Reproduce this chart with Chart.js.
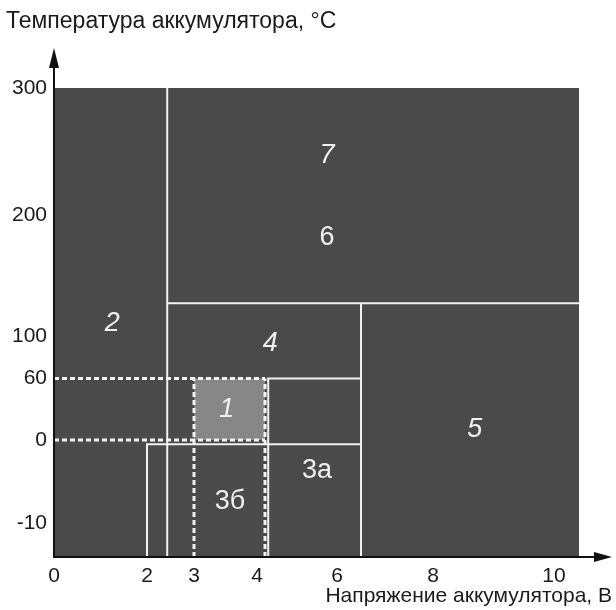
<!DOCTYPE html>
<html><head><meta charset="utf-8">
<script src="https://cdn.jsdelivr.net/npm/chart.js@4.4.1/dist/chart.umd.min.js"></script>
<style>html,body{margin:0;padding:0;background:#fff}#wrap{width:616px;height:610px}</style>
</head><body><div id="wrap"><canvas id="c" width="616" height="610"></canvas></div>
<script>
// ---- data (values in V and °C) ----
const X_TICKS = [0, 2, 3, 4, 6, 8, 10];
const Y_TICKS = [-10, 0, 60, 100, 200, 300];
const REGION_V = [0, 10.4];
const REGION_T = [300, 300];
const REGION_T_MIN = -14;
const ZONE1_V = [3, 4.2];
const ZONE1_T = [60, 60];
const ZONE1_T_MIN = 0;
// solid boundaries (polylines)
const SOLID_V = [[2.43, 2.43], [2.43, 10.4], [6.5, 6.5], [2, 2, 6.5], [4.28, 4.28, 6.5]];
const SOLID_T = [[-14, 300], [127, 127], [-14, 127], [-14, -0.5, -0.5], [-14, 60, 60]];
// dotted boundaries of zone 1
const DOTTED_V = [[0, 4.2], [0, 4.2], [3, 3], [4.2, 4.2]];
const DOTTED_T = [[60, 60], [0, 0], [-14, 60], [-14, 60]];
// zone labels
const ZONE_NAMES = ['1', '2', '3а', '3б', '4', '5', '6', '7'];
const ZONE_V = [3.52, 1.25, 5.5, 3.57, 4.33, 8.69, 5.75, 5.75];
const ZONE_T = [30, 110, -3.7, -7.4, 93, 10, 181, 247];
const ZONE_ITALIC = [true, true, false, false, true, true, false, true];

// ---- piecewise (schematic) scale ----
class PiecewiseScale extends Chart.LinearScale {
  _frac(v) {
    const bv = this.options.breakValues, bf = this.options.breakFracs;
    if (v <= bv[0]) return bf[0];
    for (let i = 1; i < bv.length; i++) {
      if (v <= bv[i]) return bf[i - 1] + (v - bv[i - 1]) / (bv[i] - bv[i - 1]) * (bf[i] - bf[i - 1]);
    }
    return bf[bf.length - 1];
  }
  getPixelForValue(value) {
    if (value === null || value === undefined || isNaN(value)) return NaN;
    return this.getPixelForDecimal(this._frac(+value));
  }
  getValueForPixel(pixel) {
    const d = this.getDecimalForPixel(pixel);
    const bv = this.options.breakValues, bf = this.options.breakFracs;
    for (let i = 1; i < bv.length; i++) {
      if (d <= bf[i]) return bv[i - 1] + (d - bf[i - 1]) / (bf[i] - bf[i - 1]) * (bv[i] - bv[i - 1]);
    }
    return bv[bv.length - 1];
  }
}
PiecewiseScale.id = 'piecewise';
PiecewiseScale.defaults = Chart.LinearScale.defaults;
Chart.register(PiecewiseScale);

const FONT = '"Liberation Sans", Arial, sans-serif';
const LINE_COLOR = '#f2f2f2';

function poly(vs, ts) { return vs.map((v, i) => ({x: v, y: ts[i]})); }

const datasets = [];
SOLID_V.forEach((vs, i) => datasets.push({
  data: poly(vs, SOLID_T[i]), borderColor: LINE_COLOR, borderWidth: 2, pointRadius: 0, fill: false, tension: 0
}));
DOTTED_V.forEach((vs, i) => datasets.push({
  data: poly(vs, DOTTED_T[i]), borderColor: LINE_COLOR, borderWidth: 3, borderDash: [5, 3], pointRadius: 0, fill: false, tension: 0
}));
datasets.push({
  data: poly(ZONE1_V, ZONE1_T), borderWidth: 0, borderColor: 'rgba(0,0,0,0)', backgroundColor: '#878787',
  pointRadius: 0, fill: {value: ZONE1_T_MIN}, tension: 0
});
datasets.push({
  data: poly(REGION_V, REGION_T), borderWidth: 0, borderColor: 'rgba(0,0,0,0)', backgroundColor: '#4a4a4a',
  pointRadius: 0, fill: {value: REGION_T_MIN}, tension: 0
});

const zoneLabels = {
  id: 'zoneLabels',
  afterDatasetsDraw(chart) {
    const {ctx, scales: {x, y}} = chart;
    ctx.save();
    ctx.fillStyle = '#f0f0f0';
    ctx.textAlign = 'center';
    ctx.textBaseline = 'middle';
    ZONE_NAMES.forEach((n, i) => {
      ctx.font = (ZONE_ITALIC[i] ? 'italic ' : '') + '27px ' + FONT;
      ctx.fillText(n, x.getPixelForValue(ZONE_V[i]), y.getPixelForValue(ZONE_T[i]));
    });
    ctx.restore();
  }
};
const axesArrows = {
  id: 'axesArrows',
  afterDraw(chart) {
    const {ctx, chartArea: {left, right, top, bottom}} = chart;
    ctx.save();
    ctx.strokeStyle = '#111'; ctx.fillStyle = '#111'; ctx.lineWidth = 2;
    ctx.beginPath();
    ctx.moveTo(left, bottom + 1); ctx.lineTo(left, top + 14);
    ctx.moveTo(left - 1, bottom); ctx.lineTo(right - 14, bottom);
    ctx.stroke();
    ctx.beginPath();
    ctx.moveTo(left, top); ctx.lineTo(left - 5, top + 20); ctx.lineTo(left + 5, top + 20); ctx.closePath();
    ctx.moveTo(right, bottom); ctx.lineTo(right - 18, bottom - 5); ctx.lineTo(right - 18, bottom + 5); ctx.closePath();
    ctx.fill();
    ctx.restore();
  }
};

new Chart(document.getElementById('c'), {
  type: 'line',
  data: {datasets},
  plugins: [zoneLabels, axesArrows],
  options: {
    responsive: false, animation: false, events: [],
    layout: {padding: {left: 6, right: 4, top: 0, bottom: 0}},
    plugins: {
      legend: {display: false}, tooltip: {enabled: false},
      title: {display: true, text: 'Температура аккумулятора, °C', align: 'start', color: '#1a1a1a',
        font: {family: FONT, size: 23, weight: 'normal'}, padding: {top: 8, bottom: 12.4}}
    },
    scales: {
      x: {
        type: 'piecewise', min: 0, max: 10.96,
        breakValues: [0, 2, 3, 4, 6, 8, 10, 10.4, 10.96],
        breakFracs: [0, 0.1667, 0.2509, 0.3638, 0.5072, 0.6792, 0.8961, 0.9409, 1],
        afterBuildTicks: s => { s.ticks = X_TICKS.map(v => ({value: v})); },
        afterFit: s => { s.height = 53; },
        grid: {display: false, drawTicks: false}, border: {display: false},
        ticks: {autoSkip: false, maxRotation: 0, padding: 7, color: '#1a1a1a', font: {family: FONT, size: 21}, callback: v => String(v)},
        title: {display: true, text: 'Напряжение аккумулятора, В', align: 'end', color: '#1a1a1a',
          font: {family: FONT, size: 21}, padding: {top: 0, bottom: 1}}
      },
      y: {
        type: 'piecewise', min: -14, max: 332,
        breakValues: [-14, -10, 0, 60, 100, 200, 300, 332],
        breakFracs: [0, 0.0668, 0.2299, 0.3507, 0.4342, 0.6719, 0.9214, 1],
        afterBuildTicks: s => { s.ticks = Y_TICKS.map(v => ({value: v})); },
        afterFit: s => { s.width = 48; },
        grid: {display: false, drawTicks: false}, border: {display: false},
        ticks: {autoSkip: false, padding: 7, color: '#1a1a1a', font: {family: FONT, size: 21}, callback: v => String(v)}
      }
    }
  }
});
</script></body></html>
